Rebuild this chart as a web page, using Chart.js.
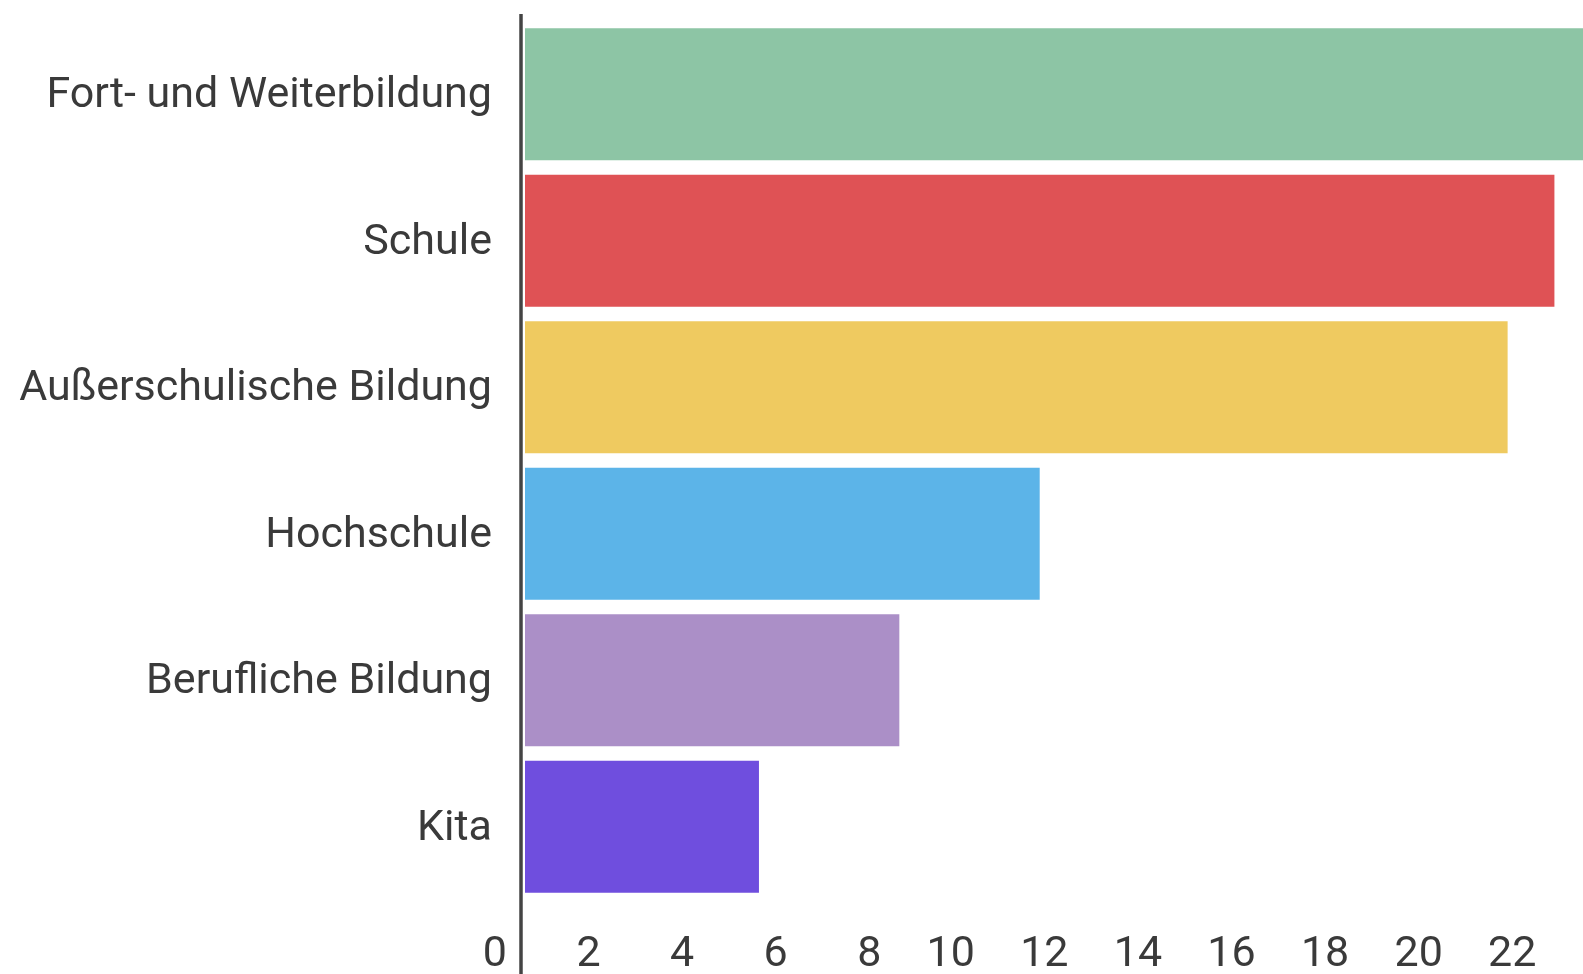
<!DOCTYPE html>
<html>
<head>
<meta charset="utf-8">
<script src="https://cdn.jsdelivr.net/npm/chart.js@4/dist/chart.umd.min.js"></script>
<style>
  html, body { margin: 0; padding: 0; background: #fff; overflow: hidden; }
  #wrap { width: 1660px; height: 974px; }
</style>
</head>
<body>
<div id="wrap"><canvas id="bildung" width="1660" height="974"></canvas></div>
<script>
  var categories = ['Fort- und Weiterbildung', 'Schule', 'Außerschulische Bildung', 'Hochschule', 'Berufliche Bildung', 'Kita'];
  var values = [24, 22, 21, 11, 8, 5];
  var barColors = ['#8dc5a5', '#df5255', '#efca60', '#5cb4e8', '#ab8fc7', '#6f4ede'];
  var xMin = 0, xMax = 24, xStep = 2;

  var textColor = '#3a3a3a';

  // vertical axis line, a bit longer than the plot area like in the original
  var axisLine = {
    id: 'axisLine',
    afterDatasetsDraw: function (chart) {
      var ctx = chart.ctx,
        x = chart.scales.x.getPixelForValue(0) - 4;
      ctx.save();
      ctx.strokeStyle = '#444';
      ctx.lineWidth = 3.5;
      ctx.beginPath();
      ctx.moveTo(x, chart.chartArea.top - 7);
      ctx.lineTo(x, chart.height);
      ctx.stroke();
      ctx.restore();
    }
  };

  new Chart(document.getElementById('bildung'), {
    type: 'bar',
    data: {
      labels: categories,
      datasets: [{
        data: values,
        backgroundColor: barColors,
        borderWidth: 0,
        barPercentage: 0.9,
        categoryPercentage: 1
      }]
    },
    options: {
      indexAxis: 'y',
      responsive: false,
      animation: false,
      layout: { padding: { top: 21, right: 12, left: 0, bottom: 0 } },
      plugins: {
        legend: { display: false },
        tooltip: { enabled: false }
      },
      scales: {
        x: {
          min: xMin,
          max: xMax,
          grid: { display: false, drawTicks: false },
          border: { display: false },
          ticks: {
            stepSize: xStep,
            align: 'end',
            labelOffset: -18,
            padding: 29,
            maxRotation: 0,
            color: textColor,
            font: { family: 'Roboto', size: 43 }
          },
          afterFit: function (scale) {
            scale.height = 74;
            scale.paddingLeft = 0;
            scale.paddingRight = 0;
          }
        },
        y: {
          grid: { display: false, drawTicks: false },
          border: { display: false },
          ticks: {
            padding: 33,
            labelOffset: 2,
            color: textColor,
            font: { family: 'Roboto', size: 43 }
          },
          afterFit: function (scale) {
            scale.width = 525;
            scale.paddingTop = 0;
            scale.paddingBottom = 0;
          }
        }
      }
    },
    plugins: [axisLine]
  });
</script>
</body>
</html>
